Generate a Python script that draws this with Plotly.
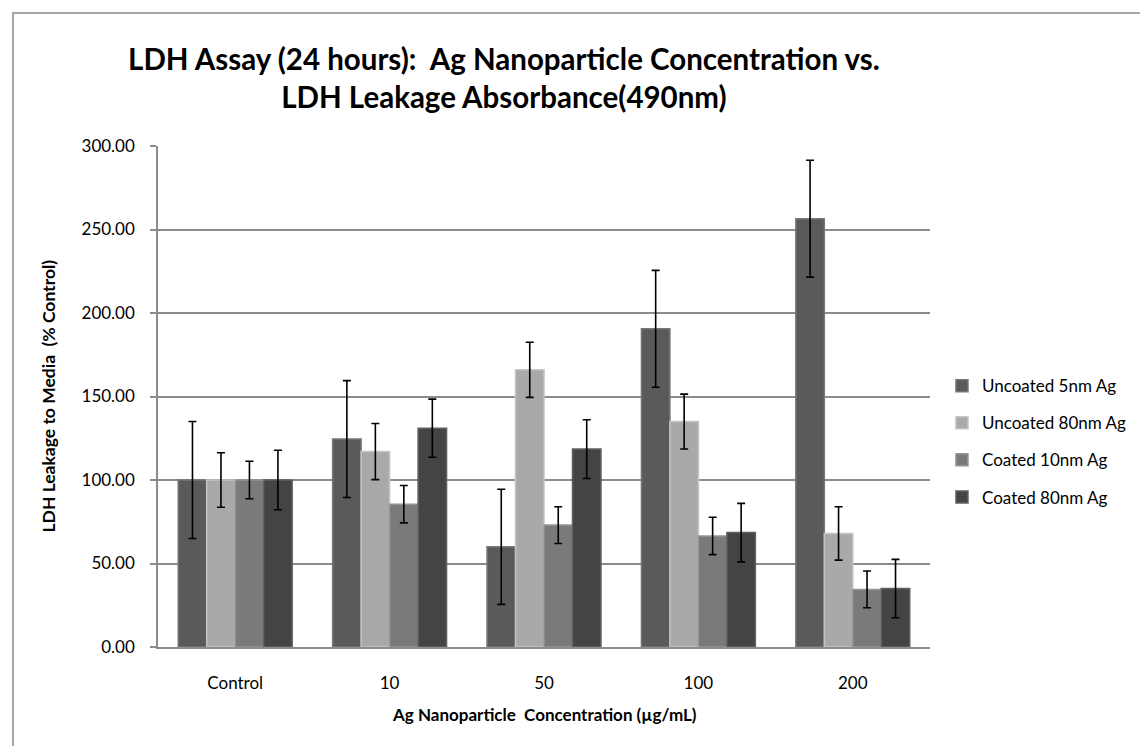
import plotly.graph_objects as go

# datos
categorias = ["Control", "10", "50", "100", "200"]
uncoated_5 = [100, 124.5, 60, 190.5, 256.5]
uncoated_80 = [100, 117, 166, 135, 68]
coated_10 = [100, 85.5, 73, 66.5, 34.5]
coated_80 = [100, 131, 118.5, 68.5, 35]

err_u5 = [35, 35, 34.5, 35, 35]
err_u80 = [16.3, 16.8, 16.5, 16.4, 16]
err_c10 = [11.2, 11.2, 11, 11.2, 11]
err_c80 = [17.8, 17.4, 17.6, 17.5, 17.5]

y_ticks = [0, 50, 100, 150, 200, 250, 300]

series = [
    ("Uncoated 5nm Ag", uncoated_5, err_u5, "#5a5a5a", "#777777"),
    ("Uncoated 80nm Ag", uncoated_80, err_u80, "#a9a9a9", "#c4c4c4"),
    ("Coated 10nm Ag", coated_10, err_c10, "#7a7a7a", "#959595"),
    ("Coated 80nm Ag", coated_80, err_c80, "#444444", "#606060"),
]

FONT = "Lato"

fig = go.Figure()

for i, (nombre, valores, errores, color, borde) in enumerate(series):
    fig.add_trace(go.Bar(
        x=categorias,
        y=valores,
        name=nombre,
        legendgroup=str(i),
        marker=dict(color=color, line=dict(color=borde, width=1.5)),
        error_y=dict(type="data", array=errores, visible=True,
                     color="#000000", thickness=1.6, width=4),
    ))

fig.update_layout(
    width=1148,
    height=746,
    barmode="group",
    bargap=0.262,
    bargroupgap=0,
    plot_bgcolor="white",
    paper_bgcolor="white",
    margin={"l": 150, "r": 226, "t": 138, "b": 107},
    font=dict(family=FONT, size=17, color="#000000"),
    title=dict(
        text="<b>LDH Assay (24 hours):  Ag Nanoparticle Concentration vs.<br>LDH Leakage Absorbance(490nm)</b>",
        x=0.432, xanchor="center",
        y=1 - 62 / 746, yanchor="middle",
        font=dict(family=FONT, size=29.5, color="#000000"),
    ),
    legend=dict(
        x=1.0155, xanchor="left",
        y=0.41, yanchor="middle",
        font=dict(family=FONT, size=17, color="#000000"),
        tracegroupgap=12,
        bgcolor="rgba(0,0,0,0)",
    ),
    showlegend=True,
)

fig.update_xaxes(
    showline=True, linecolor="#8c8c8c", linewidth=1.5,
    ticks="outside", ticklen=20, tickcolor="rgba(0,0,0,0)",
    showgrid=False,
    tickfont=dict(family=FONT, size=17, color="#000000"),
)

fig.update_yaxes(
    range=[0, 300],
    tickvals=y_ticks,
    tickformat=".2f",
    showline=True, linecolor="#8c8c8c", linewidth=1.5,
    ticks="outside", ticklen=6, tickcolor="#8c8c8c", tickwidth=1.5,
    ticklabelstandoff=12,
    showgrid=True, gridcolor="#8c8c8c", gridwidth=1.5,
    zeroline=False,
    tickfont=dict(family=FONT, size=17, color="#000000"),
)

# titulos de ejes
fig.add_annotation(
    text="<b>Ag Nanoparticle  Concentration (µg/mL)</b>",
    xref="paper", yref="paper", x=0.5, y=(639 - 706) / 501,
    xanchor="center", yanchor="middle", showarrow=False,
    font=dict(family=FONT, size=17, color="#000000"),
)
fig.add_annotation(
    text="<b>LDH Leakage to Media  (% Control)</b>",
    xref="paper", yref="paper", x=(40 - 150) / 772, y=0.5,
    xanchor="center", yanchor="middle", textangle=-90, showarrow=False,
    font=dict(family=FONT, size=17.5, color="#000000"),
)

# borde del area del grafico
fig.add_shape(
    type="rect", xref="paper", yref="paper",
    x0=(5 - 150) / 772, x1=(1160 - 150) / 772,
    y0=(639 - 760) / 501, y1=(639 - 5) / 501,
    line=dict(color="#8a8a8a", width=1.5), fillcolor="rgba(0,0,0,0)",
    layer="below",
)

fig.write_html("out.html")
